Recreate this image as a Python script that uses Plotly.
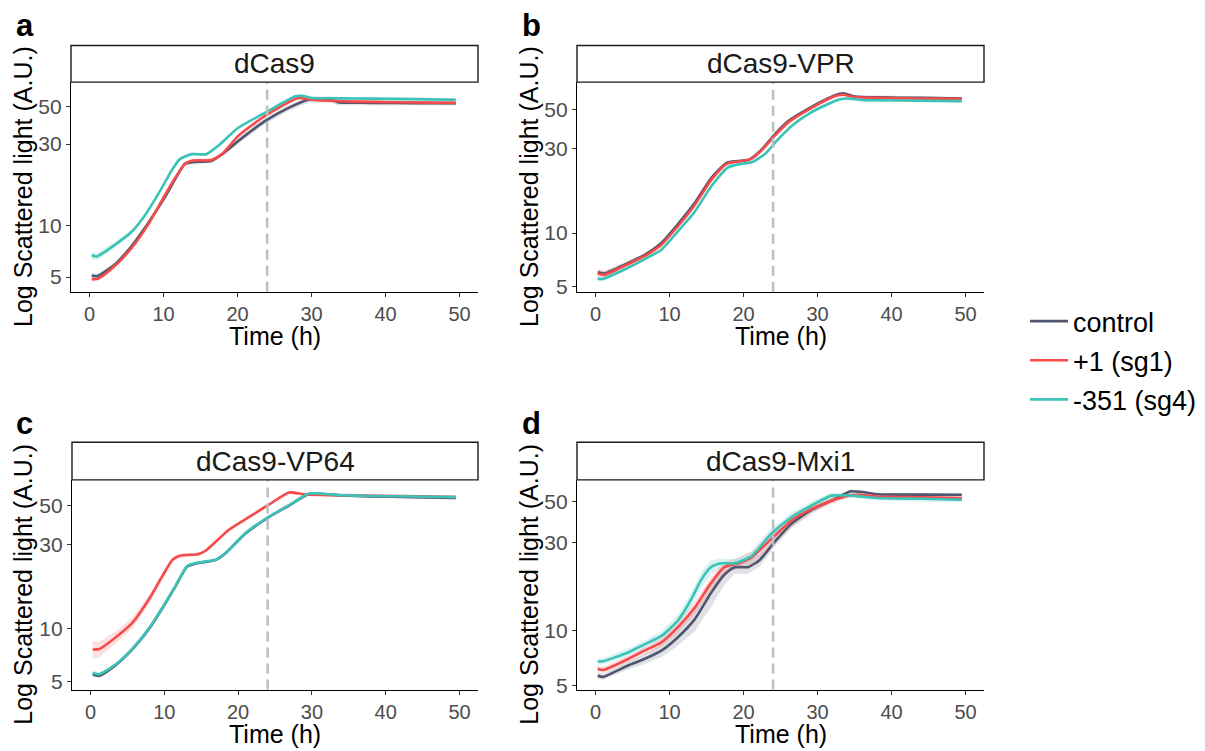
import plotly.graph_objects as go

# ---------------- data ----------------
series_names = ["control", "+1 (sg1)", "-351 (sg4)"]
panel_titles = ["dCas9", "dCas9-VPR", "dCas9-VP64", "dCas9-Mxi1"]
panel_letters = ["a", "b", "c", "d"]
x_ticks = [0, 10, 20, 30, 40, 50]
y_ticks = [5, 10, 30, 50]
induction_time = 24

# panel a : dCas9
a_ctrl_t = [0.3, 1, 3.4, 5.7, 7.9, 10.2, 12.9, 13.8, 16.5, 18.3, 20.1, 23.7, 26.9, 29.6, 32.7, 33.6, 38, 44, 49.5]
a_ctrl_y = [5.1, 5.05, 5.9, 7.6, 10.3, 14.7, 23.0, 23.5, 24.0, 26.9, 31.3, 40.9, 48.9, 54.6, 54.6, 52.8, 52.3, 52.1, 52.0]
a_ctrl_b = [0.04, 0.03, 0.03, 0.03, 0.03, 0.03, 0.03, 0.03, 0.03, 0.03, 0.04, 0.04, 0.04, 0.04, 0.04, 0.04, 0.03, 0.03, 0.03]
a_red_t = [0.3, 1.2, 3.4, 5.7, 7.9, 10.2, 11.5, 12.9, 13.8, 16.5, 17.9, 20.1, 23.7, 28.2, 30.0, 34, 38, 44, 49.5]
a_red_y = [4.85, 4.9, 5.8, 7.4, 10.1, 15.1, 18.8, 23.0, 24.0, 24.2, 26.2, 33.5, 43.8, 55.9, 54.6, 53.5, 53.0, 52.6, 52.3]
a_red_b = [0.03, 0.03, 0.02, 0.02, 0.02, 0.02, 0.02, 0.02, 0.02, 0.02, 0.02, 0.02, 0.02, 0.02, 0.02, 0.02, 0.02, 0.02, 0.02]
a_teal_t = [0.3, 1, 3.4, 5.7, 7.5, 9.7, 11.1, 12.2, 13.8, 15.8, 17.4, 20.1, 23.7, 27.8, 28.7, 30, 34, 38, 44, 49.5]
a_teal_y = [6.7, 6.6, 7.7, 9.2, 11.5, 16.4, 21.0, 24.5, 26.2, 26.2, 29.3, 37.4, 45.7, 57.1, 57.5, 55.9, 55.6, 55.4, 55.0, 54.6]
a_teal_b = [0.05, 0.05, 0.04, 0.03, 0.02, 0.02, 0.02, 0.02, 0.02, 0.02, 0.02, 0.02, 0.02, 0.02, 0.02, 0.02, 0.02, 0.02, 0.02, 0.02]

# panel b : dCas9-VPR
b_ctrl_t = [0.3, 1.2, 3.5, 6.6, 8.9, 11.1, 13.4, 15.6, 17.7, 19.3, 20.8, 22.4, 24.2, 26.0, 29.2, 32.3, 33.5, 35.0, 38.2, 44, 49.5]
b_ctrl_y = [6.0, 5.9, 6.5, 7.5, 8.8, 11.2, 14.8, 20.4, 25.0, 25.6, 26.1, 29.6, 36.2, 43.0, 52.0, 60.3, 62.0, 59.5, 58.8, 58.4, 58.0]
b_ctrl_b = [0.03, 0.03, 0.02, 0.02, 0.02, 0.02, 0.03, 0.03, 0.02, 0.02, 0.02, 0.02, 0.03, 0.02, 0.02, 0.02, 0.02, 0.02, 0.02, 0.02, 0.02]
b_red_t = [0.3, 1.2, 3.5, 6.6, 8.9, 11.1, 13.4, 15.6, 17.7, 19.3, 20.8, 22.4, 24.2, 26.0, 29.2, 32.3, 33.5, 35.0, 38.2, 44, 49.5]
b_red_y = [5.9, 5.8, 6.4, 7.4, 8.6, 10.9, 14.4, 19.9, 24.7, 25.5, 26.1, 29.3, 35.6, 42.3, 51.3, 59.7, 60.9, 59.1, 58.4, 58.0, 57.7]
b_red_b = [0.07, 0.06, 0.05, 0.04, 0.03, 0.02, 0.02, 0.02, 0.02, 0.02, 0.02, 0.02, 0.02, 0.02, 0.02, 0.02, 0.02, 0.02, 0.02, 0.02, 0.02]
b_teal_t = [0.3, 1, 3.5, 6.6, 8.9, 11.1, 13.4, 15.6, 17.9, 19.7, 21.1, 22.9, 24.7, 26.5, 29.2, 32.8, 34.1, 36, 38.2, 44, 49.5]
b_teal_y = [5.5, 5.5, 6.1, 7.1, 8.05, 10.2, 13.2, 18.3, 23.6, 24.7, 25.2, 28.1, 34.1, 40.5, 48.5, 57.1, 58.0, 56.8, 56.6, 56.3, 56.0]
b_teal_b = [0.03, 0.03, 0.02, 0.02, 0.02, 0.02, 0.02, 0.02, 0.02, 0.02, 0.02, 0.02, 0.02, 0.02, 0.02, 0.02, 0.02, 0.02, 0.02, 0.02, 0.02]

# panel c : dCas9-VP64
c_ctrl_t = [0.3, 1.2, 3.4, 5.7, 7.9, 10.2, 11.5, 13.1, 14.3, 17.0, 18.3, 21.0, 24.2, 26.9, 29.6, 34, 38, 44, 49.5]
c_ctrl_y = [5.5, 5.4, 6.2, 7.65, 9.9, 14.0, 17.3, 22.5, 23.4, 24.5, 26.7, 34.6, 42.9, 49.8, 57.9, 56.8, 56.1, 55.6, 55.0]
c_ctrl_b = [0.03, 0.03, 0.02, 0.02, 0.02, 0.03, 0.03, 0.02, 0.02, 0.02, 0.02, 0.02, 0.02, 0.02, 0.02, 0.02, 0.02, 0.02, 0.02]
c_red_t = [0.3, 1.2, 3.4, 5.7, 7.9, 9.7, 11.1, 12.0, 14.7, 15.6, 18.8, 21.5, 24.2, 26.9, 29.1, 34, 38, 44, 49.5]
c_red_y = [7.6, 7.65, 8.9, 10.8, 14.6, 19.7, 24.5, 25.8, 26.5, 27.6, 36.4, 42.9, 50.5, 59.1, 57.5, 57.0, 56.6, 56.2, 55.7]
c_red_b = [0.12, 0.1, 0.08, 0.07, 0.06, 0.05, 0.04, 0.03, 0.02, 0.02, 0.02, 0.02, 0.02, 0.02, 0.02, 0.02, 0.02, 0.02, 0.02]
c_teal_t = [0.3, 1.2, 3.4, 5.7, 7.9, 10.2, 11.5, 13.1, 14.3, 17.0, 18.3, 21.0, 24.2, 26.9, 29.6, 34, 38, 44, 49.5]
c_teal_y = [5.6, 5.5, 6.25, 7.7, 10.0, 14.1, 17.4, 22.6, 23.5, 24.6, 26.8, 34.8, 43.1, 50.0, 58.1, 57.0, 56.4, 56.0, 55.6]
c_teal_b = [0.03, 0.03, 0.02, 0.02, 0.02, 0.02, 0.02, 0.02, 0.02, 0.02, 0.02, 0.02, 0.02, 0.02, 0.02, 0.02, 0.02, 0.02, 0.02]

# panel d : dCas9-Mxi1
d_ctrl_t = [0.3, 1, 4.4, 6.6, 8.9, 11.1, 13.4, 15.6, 17.4, 18.8, 20.6, 22.2, 24.2, 26.5, 29.2, 31.9, 34.4, 36.0, 38.2, 44, 49.5]
d_ctrl_y = [5.7, 5.6, 6.46, 7.0, 7.77, 9.17, 11.5, 16.0, 20.1, 22.1, 22.1, 24.2, 30.3, 38.1, 45.3, 50.8, 57.0, 56.6, 55.0, 54.8, 54.7]
d_ctrl_b = [0.04, 0.04, 0.05, 0.06, 0.08, 0.1, 0.14, 0.16, 0.12, 0.08, 0.08, 0.08, 0.06, 0.05, 0.04, 0.03, 0.02, 0.02, 0.02, 0.02, 0.02]
d_red_t = [0.3, 1, 4.4, 6.6, 8.9, 11.1, 13.4, 15.6, 17.4, 19.3, 21.1, 23.8, 26.5, 29.2, 31.9, 34.1, 35.5, 38, 44, 49.5]
d_red_y = [6.2, 6.1, 7.0, 7.77, 8.62, 10.4, 13.3, 18.1, 22.1, 23.2, 25.0, 31.6, 39.6, 45.8, 50.8, 54.1, 54.7, 53.5, 53.0, 52.5]
d_red_b = [0.04, 0.04, 0.04, 0.05, 0.06, 0.07, 0.08, 0.08, 0.07, 0.07, 0.08, 0.1, 0.08, 0.06, 0.04, 0.03, 0.02, 0.02, 0.02, 0.02]
d_teal_t = [0.3, 1, 4.4, 6.6, 8.9, 11.1, 12.9, 14.3, 15.6, 17.0, 18.8, 21.1, 23.8, 26.5, 29.2, 31.9, 34.6, 38, 44, 49.5]
d_teal_y = [6.8, 6.8, 7.6, 8.4, 9.35, 11.3, 14.7, 18.9, 22.1, 23.2, 23.2, 25.4, 33.7, 41.3, 47.8, 54.1, 54.1, 52.5, 52.0, 51.4]
d_teal_b = [0.04, 0.04, 0.05, 0.05, 0.06, 0.07, 0.09, 0.1, 0.09, 0.06, 0.05, 0.06, 0.07, 0.06, 0.05, 0.04, 0.03, 0.03, 0.03, 0.03]

# ---------------- styling / layout ----------------
W, H = 1205, 751
line_colors = ["#4F566D", "#F74A4A", "#3CC3B8"]
fill_colors = ["rgba(79,86,109,0.18)", "rgba(247,74,74,0.17)", "rgba(60,195,184,0.2)"]
FONT = "Liberation Sans, Arial, sans-serif"


def fx(px):
    return px / W


def fy(py):
    return 1 - py / H


panels = [
    dict(xl=71, xr=478, st=46, top=83, bot=295, yr=[0.612, 1.840], lx=14, ly=26, yt=23,
         data=[(a_ctrl_t, a_ctrl_y, a_ctrl_b), (a_red_t, a_red_y, a_red_b), (a_teal_t, a_teal_y, a_teal_b)]),
    dict(xl=577, xr=984, st=46, top=83, bot=295, yr=[0.667, 1.856], lx=520, ly=26, yt=529,
         data=[(b_ctrl_t, b_ctrl_y, b_ctrl_b), (b_red_t, b_red_y, b_red_b), (b_teal_t, b_teal_y, b_teal_b)]),
    dict(xl=72, xr=478, st=447, top=485, bot=697, yr=[0.654, 1.843], lx=14, ly=428, yt=23,
         data=[(c_ctrl_t, c_ctrl_y, c_ctrl_b), (c_red_t, c_red_y, c_red_b), (c_teal_t, c_teal_y, c_teal_b)]),
    dict(xl=577, xr=984, st=447, top=485, bot=697, yr=[0.679, 1.819], lx=520, ly=428, yt=529,
         data=[(d_ctrl_t, d_ctrl_y, d_ctrl_b), (d_red_t, d_red_y, d_red_b), (d_teal_t, d_teal_y, d_teal_b)]),
]

fig = go.Figure()
shapes = []
annotations = []
layout_axes = {}

for i, p in enumerate(panels):
    k = "" if i == 0 else str(i + 1)
    xa, ya = "x" + k, "y" + k
    for j, (t, y, b) in enumerate(p["data"]):
        lo = [v * (1 - e) for v, e in zip(y, b)]
        hi = [v * (1 + e) for v, e in zip(y, b)]
        fig.add_trace(go.Scatter(
            x=list(t) + list(t)[::-1], y=lo + hi[::-1], fill="toself",
            fillcolor=fill_colors[j], line=dict(width=0), mode="lines",
            hoverinfo="skip", showlegend=False, legendgroup=series_names[j],
            xaxis=xa, yaxis=ya))
    for j, (t, y, b) in enumerate(p["data"]):
        fig.add_trace(go.Scatter(
            x=t, y=y, mode="lines", name=series_names[j],
            line=dict(color=line_colors[j], width=2.6, shape="spline", smoothing=0.6),
            legendgroup=series_names[j], showlegend=(i == 0),
            xaxis=xa, yaxis=ya))

    layout_axes["xaxis" + k] = dict(
        domain=[fx(p["xl"]), fx(p["xr"])], anchor=ya, range=[-2.5, 52.5],
        tickvals=x_ticks, ticks="outside", ticklen=4, tickwidth=1.2, tickcolor="#333333",
        showline=True, linecolor="black", linewidth=1.4, showgrid=False, zeroline=False,
        tickfont=dict(family=FONT, size=20, color="#4D4D4D"), fixedrange=True)
    layout_axes["yaxis" + k] = dict(
        domain=[fy(p["bot"]), fy(p["top"])], anchor=xa, type="log", range=p["yr"],
        tickvals=y_ticks, ticktext=[str(v) for v in y_ticks],
        ticks="outside", ticklen=4, tickwidth=1.2, tickcolor="#333333",
        showline=True, linecolor="black", linewidth=1.4, showgrid=False, zeroline=False,
        tickfont=dict(family=FONT, size=21, color="#4D4D4D"), fixedrange=True)

    # induction time marker
    shapes.append(dict(type="line", xref=xa, yref=ya + " domain", x0=induction_time, x1=induction_time,
                       y0=0, y1=1, line=dict(color="#BEBEBE", width=2.5, dash="10px,6px")))
    # strip box
    shapes.append(dict(type="rect", xref="paper", yref="paper",
                       x0=fx(p["xl"]), x1=fx(p["xr"]), y0=fy(p["top"]), y1=fy(p["st"]),
                       line=dict(color="#1A1A1A", width=1.4), fillcolor="white"))
    annotations.append(dict(text=panel_titles[i], xref="paper", yref="paper",
                            x=fx((p["xl"] + p["xr"]) / 2), y=fy((p["st"] + p["top"]) / 2),
                            xanchor="center", yanchor="middle", showarrow=False,
                            font=dict(family=FONT, size=28, color="#1A1A1A")))
    # panel letter
    annotations.append(dict(text="<b>" + panel_letters[i] + "</b>", xref="paper", yref="paper",
                            x=fx(p["lx"]), y=fy(p["ly"]), xanchor="left", yanchor="middle",
                            showarrow=False, font=dict(family=FONT, size=31, color="black")))
    # axis titles
    annotations.append(dict(text="Time (h)", xref="paper", yref="paper",
                            x=fx((p["xl"] + p["xr"]) / 2), y=fy(p["bot"] + 45),
                            xanchor="center", yanchor="middle", showarrow=False,
                            font=dict(family=FONT, size=25, color="black")))
    annotations.append(dict(text="Log Scattered light (A.U.)", xref="paper", yref="paper",
                            x=fx(p["yt"]), y=fy((p["top"] + p["bot"]) / 2), textangle=-90,
                            xanchor="center", yanchor="middle", showarrow=False,
                            font=dict(family=FONT, size=25, color="black")))

fig.update_layout(
    width=W, height=H, margin=dict(l=0, r=0, t=0, b=0),
    paper_bgcolor="white", plot_bgcolor="white",
    shapes=shapes, annotations=annotations,
    legend=dict(x=fx(1025), y=fy(364.5), xanchor="left", yanchor="middle",
                font=dict(family=FONT, size=27, color="black"), itemwidth=38,
                traceorder="grouped", tracegroupgap=1, bgcolor="rgba(0,0,0,0)"),
    **layout_axes,
)

fig.write_html("out.html", config={"displayModeBar": False},
               post_script="document.body.style.margin='0px';")
